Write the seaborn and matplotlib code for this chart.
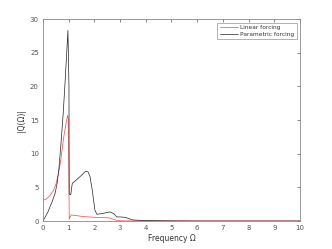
import pandas as pd
import matplotlib
matplotlib.use('Agg')
import matplotlib.pyplot as plt
import seaborn as sns

# frequency response
lin_freq = [0, 0.1, 0.2, 0.3, 0.4, 0.5, 0.6, 0.7, 0.8, 0.9, 0.96, 0.99, 1.02, 1.05, 1.1, 1.3, 1.6, 2.0, 2.4, 2.6, 2.75, 2.9, 3.2, 4, 5, 6, 7, 8, 9, 10]
lin_amp = [3.1, 3.2, 3.5, 3.9, 4.5, 5.4, 7.0, 9.3, 12.3, 14.6, 15.7, 15.0, 0.3, 0.6, 0.9, 0.8, 0.65, 0.55, 0.5, 0.45, 0.25, 0.05, 0.02, 0.01, 0.01, 0.0, 0.0, 0.0, 0.0, 0.0]

par_freq = [0, 0.1, 0.2, 0.27, 0.35, 0.47, 0.55, 0.62, 0.7, 0.79, 0.86, 0.92, 0.97, 1.01, 1.02, 1.08, 1.14, 1.3, 1.5, 1.66, 1.75, 1.83, 1.92, 2.02, 2.1, 2.3, 2.6, 2.75, 2.87, 3.0, 3.19, 3.35, 3.5, 3.8, 4.2, 5, 6, 7, 8, 9, 10]
par_amp = [0.0, 0.7, 1.4, 2.1, 2.8, 4.1, 5.6, 7.8, 11.5, 16.2, 20.7, 24.8, 28.3, 20.0, 4.0, 3.9, 5.6, 6.1, 6.8, 7.4, 7.3, 6.6, 4.5, 1.6, 1.0, 1.1, 1.35, 1.1, 0.6, 0.6, 0.55, 0.35, 0.15, 0.1, 0.05, 0.02, 0.0, 0.0, 0.0, 0.0, 0.0]

df_lin = pd.DataFrame({'freq': lin_freq, 'amp': lin_amp})
df_par = pd.DataFrame({'freq': par_freq, 'amp': par_amp})

sns.set_style('white')
plt.rcParams['font.family'] = ['DejaVu Sans']

fig = plt.figure(figsize=(3.32, 2.49), dpi=100)
ax = fig.add_axes([43 / 332, 1 - 221 / 249, 257 / 332, 202 / 249])

sns.lineplot(data=df_lin, x='freq', y='amp', color='#ff4040', lw=0.5, label='Linear forcing', ax=ax)
sns.lineplot(data=df_par, x='freq', y='amp', color='#222222', lw=0.5, label='Parametric forcing', ax=ax)

ax.set(xlim=(0, 10), ylim=(0, 30))
ax.set_xticks(range(0, 11))
ax.set_yticks(range(0, 31, 5))
ax.set_xlabel('Frequency Ω', fontsize=5.5, labelpad=2, color='#333333')
ax.set_ylabel('|Q(Ω)|', fontsize=5.5, labelpad=3, color='#333333')
ax.tick_params(direction='in', length=2, width=0.5, labelsize=5, colors='#555555',
               top=True, right=True, pad=3)
for s in ax.spines.values():
    s.set_color('#888888')
    s.set_linewidth(0.6)

leg = ax.legend(loc='upper right', fontsize=4.2, frameon=True, fancybox=False,
                borderpad=0.4, handlelength=3.2, labelspacing=0.3, handletextpad=0.3,
                borderaxespad=0.6)
leg.get_frame().set_edgecolor('#777777')
leg.get_frame().set_linewidth(0.5)
for t in leg.get_texts():
    t.set_color('#333333')

fig.savefig('out.png', dpi=100)
